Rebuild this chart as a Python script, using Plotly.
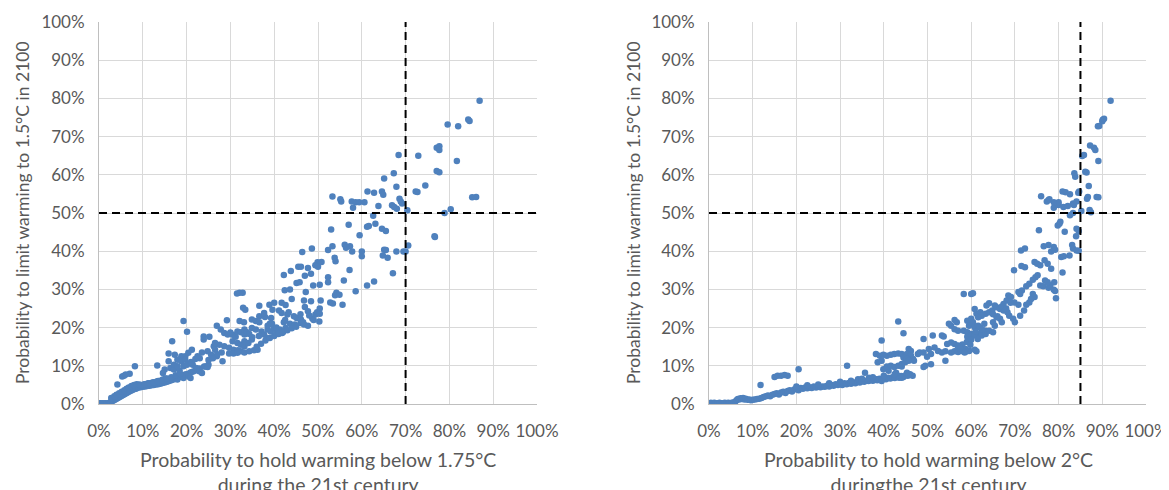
import plotly.graph_objects as go
from plotly.subplots import make_subplots

# left panel: P(<1.75C during century) vs P(1.5C in 2100), in %
x_175 = [
    0.0, 0.3, 0.6, 0.9, 1.2, 1.5, 1.8, 2.1, 2.4, 2.7,
    3.0, 3.3, 3.6, 3.9, 4.2, 4.5, 4.8, 5.1, 5.4, 5.7,
    6.0, 6.3, 6.6, 6.9, 7.2, 7.5, 7.8, 8.1, 8.4, 8.7,
    2.8, 3.5, 4.0, 4.6, 5.2, 5.8, 6.3, 6.8, 7.4, 8.0,
    9.0, 9.5, 10.0, 10.5, 11.0, 11.5, 12.0, 12.5, 13.0, 13.5,
    8.6, 9.2, 9.8, 10.4, 11.2, 12.2, 13.2, 14.0, 14.6, 15.2,
    14.0, 14.5, 15.0, 15.5, 16.0, 16.5, 17.0, 17.5, 18.0, 18.5,
    19.0, 19.5, 20.0, 20.5, 21.0, 21.5, 22.0, 23.0, 24.0, 25.0,
    4.2, 5.3, 5.7, 6.1, 7.0, 8.2, 13.3, 15.0, 14.6, 16.3,
    15.4, 16.3, 17.1, 18.4, 17.6, 17.9, 19.3, 19.7, 20.5, 20.9,
    15.9, 16.7, 17.3, 18.8, 19.7, 17.9, 18.8, 19.7, 17.1, 17.9,
    19.3, 20.1, 21.4, 22.2, 15.9, 19.3, 20.1, 21.2, 20.4, 22.9,
    23.5, 24.3, 24.8, 23.9, 23.9, 25.2, 26.2, 26.5, 24.8, 25.6,
    26.9, 23.5, 26.9, 27.8, 29.2, 28.2, 28.6, 29.4, 30.0, 30.5,
    31.2, 31.6, 32.4, 33.2, 30.5, 31.6, 32.4, 33.2, 28.6, 29.7,
    30.7, 31.7, 32.4, 33.2, 34.3, 35.4, 36.2, 33.2, 34.1, 34.9,
    29.7, 30.7, 31.6, 33.2, 33.8, 34.3, 34.9, 35.8, 32.1, 33.1,
    31.5, 32.1, 32.8, 37.1, 37.7, 38.3, 38.5, 39.2, 40.5, 41.8,
    40.0, 41.3, 42.6, 34.9, 35.8, 36.6, 36.6, 37.9, 39.3, 42.2,
    43.6, 44.7, 46.0, 46.8, 47.7, 41.7, 43.0, 43.3, 37.7, 39.6,
    41.1, 41.7, 42.6, 38.9, 40.0, 36.6, 32.9, 33.4, 45.1, 46.1,
    46.6, 48.7, 49.4, 50.3, 47.0, 47.7, 50.4, 49.8, 50.4, 46.8,
    48.4, 50.6, 52.8, 53.4, 55.6, 54.2, 53.9, 54.9, 42.4, 43.6,
    47.2, 48.9, 50.4, 45.1, 45.8, 48.4, 47.0, 42.2, 43.8, 45.5,
    46.1, 47.7, 49.9, 49.4, 50.0, 50.8, 52.3, 52.3, 55.9, 58.6,
    61.2, 62.8, 67.1, 57.2, 53.8, 54.0, 46.4, 48.6, 52.3, 65.1,
    65.5, 67.9, 69.5, 70.0, 70.6, 64.8, 65.9, 57.8, 60.0, 60.0,
    53.3, 56.1, 56.4, 57.3, 59.5, 76.6, 76.7, 64.6, 65.5, 63.1,
    61.2, 61.6, 57.0, 53.0, 62.6, 78.9, 80.3, 70.4, 58.0, 66.9,
    67.4, 68.0, 63.8, 85.2, 86.1, 57.7, 58.6, 59.4, 60.6, 68.6,
    68.9, 69.2, 55.1, 55.3, 53.3, 61.3, 62.8, 64.6, 64.9, 72.3,
    72.7, 67.9, 74.5, 65.1, 67.3, 77.1, 77.7, 81.7, 72.9, 68.4,
    77.1, 77.7, 77.7, 82.0, 79.6, 84.3, 84.6, 86.9, 44.0, 39.0,
    36.0, 37.0, 38.0, 39.0, 40.0, 41.0, 42.0, 43.0, 44.0, 45.0,
    35.0, 36.5, 38.5, 39.5, 40.5, 42.5, 44.5, 46.0, 48.0, 49.0,
    21.0, 22.0, 23.0, 25.0, 26.0, 27.0, 28.0, 27.5, 26.5, 22.5,
    9.5, 10.5, 11.5, 12.5, 13.5, 14.5, 15.5, 16.5, 17.5, 18.5,
]
y_175 = [
    0.2, 0.2, 0.1, 0.2, 0.1, 0.2, 0.1, 0.2, 0.3, 0.5,
    0.7, 0.9, 1.1, 1.3, 1.5, 1.7, 1.9, 2.1, 2.3, 2.5,
    2.7, 2.9, 3.1, 3.3, 3.5, 3.6, 3.8, 3.9, 4.0, 4.2,
    1.6, 2.0, 2.4, 2.8, 3.2, 3.6, 4.0, 4.3, 4.7, 5.0,
    4.3, 4.4, 4.5, 4.6, 4.7, 4.8, 4.9, 5.0, 5.1, 5.2,
    5.2, 5.1, 5.0, 5.2, 5.4, 5.6, 5.9, 6.1, 6.4, 6.7,
    5.3, 5.5, 5.6, 5.8, 6.0, 6.2, 6.4, 6.6, 6.9, 7.1,
    7.3, 7.5, 7.8, 8.0, 8.3, 8.5, 8.8, 9.3, 9.8, 10.3,
    5.1, 7.2, 7.4, 7.7, 7.9, 9.9, 10.1, 9.0, 8.1, 6.4,
    5.9, 9.4, 9.0, 8.8, 7.2, 6.4, 6.8, 7.7, 7.2, 6.8,
    13.2, 16.4, 12.9, 12.5, 12.5, 11.6, 11.2, 11.6, 10.3, 9.9,
    9.9, 10.3, 10.3, 9.4, 11.2, 21.7, 18.9, 14.2, 13.4, 8.6,
    8.1, 9.8, 9.7, 17.7, 16.9, 17.6, 15.1, 14.2, 13.8, 12.9,
    12.5, 13.5, 20.5, 19.5, 21.9, 11.2, 18.6, 18.2, 18.7, 18.1,
    17.6, 19.0, 18.8, 18.2, 16.4, 16.0, 15.5, 15.1, 15.1, 14.7,
    14.2, 14.1, 13.8, 13.5, 13.8, 14.1, 14.2, 16.4, 16.0, 16.9,
    13.2, 13.2, 13.4, 19.5, 18.8, 18.3, 19.9, 19.5, 21.7, 21.4,
    28.9, 29.1, 29.1, 19.0, 18.2, 17.3, 19.5, 19.0, 18.8, 18.6,
    19.9, 19.5, 19.9, 22.1, 21.7, 21.4, 23.0, 22.8, 22.5, 21.4,
    21.0, 20.8, 21.2, 20.8, 20.5, 23.8, 23.4, 24.0, 23.8, 24.7,
    24.5, 26.5, 25.9, 26.0, 26.5, 25.7, 25.2, 24.7, 22.5, 22.1,
    21.4, 22.4, 23.4, 21.6, 25.4, 24.3, 25.0, 24.0, 23.6, 27.1,
    26.9, 27.1, 26.6, 26.3, 26.0, 29.1, 28.5, 28.6, 29.8, 30.0,
    29.3, 31.0, 31.2, 31.7, 31.9, 34.1, 33.6, 33.8, 34.8, 35.9,
    35.9, 35.6, 37.1, 36.3, 35.9, 37.2, 33.2, 31.9, 32.3, 29.5,
    31.0, 32.1, 34.2, 35.1, 38.3, 37.4, 39.8, 40.7, 40.3, 40.4,
    40.3, 39.9, 39.9, 39.9, 41.5, 38.9, 38.3, 39.9, 39.9, 38.7,
    41.3, 41.7, 40.9, 41.3, 44.2, 43.9, 43.7, 45.9, 45.3, 47.2,
    46.4, 46.6, 46.9, 45.7, 49.3, 50.0, 51.0, 50.7, 51.4, 52.0,
    51.6, 51.1, 51.8, 54.1, 54.2, 53.0, 52.8, 52.8, 52.8, 53.7,
    53.0, 52.5, 53.6, 53.0, 54.3, 55.6, 55.3, 55.6, 54.8, 55.6,
    55.5, 56.9, 57.2, 59.0, 60.4, 61.0, 60.7, 63.6, 65.0, 65.2,
    67.1, 67.5, 66.5, 72.7, 73.2, 74.5, 74.1, 79.4, 27.5, 21.0,
    15.0, 15.8, 16.6, 17.3, 17.8, 18.3, 18.8, 19.3, 19.8, 20.2,
    17.5, 17.8, 20.5, 21.0, 20.0, 22.0, 23.0, 23.5, 23.2, 22.0,
    11.0, 11.8, 12.0, 11.5, 12.0, 13.0, 13.5, 15.5, 16.0, 12.5,
    4.9, 5.2, 5.4, 5.7, 6.0, 6.3, 6.7, 7.0, 7.5, 7.9,
]

# right panel: P(<2C during century) vs P(1.5C in 2100), in %
x_2 = [
    0.0, 0.4, 0.8, 1.2, 1.6, 2.0, 2.4, 2.8, 3.2, 3.6,
    4.0, 4.4, 4.8, 5.2, 5.6, 6.0, 6.3, 6.6, 6.9, 7.2,
    7.5, 7.8, 8.1, 8.4, 8.8, 9.2, 9.6, 10.0, 10.5, 11.0,
    11.5, 12.0, 12.5, 13.0, 13.5, 14.0, 14.5, 15.0, 15.5, 16.0,
    16.5, 17.0, 17.5, 18.0, 18.5, 19.0, 19.5, 20.0, 20.5, 21.0,
    21.5, 22.0, 22.5, 23.0, 23.5, 24.0, 24.5, 25.0, 25.5, 26.0,
    26.5, 27.0, 27.5, 28.0, 28.5, 29.0, 29.5, 30.0, 30.5, 31.0,
    31.5, 32.0, 32.5, 33.0, 33.5, 34.0, 34.5, 35.0, 35.5, 36.0,
    36.5, 37.0, 37.5, 38.0, 38.5, 39.0, 39.5, 40.0, 40.5, 41.0,
    41.5, 42.0, 42.5, 43.0, 43.5, 44.0, 44.5, 45.0, 45.5, 46.0,
    11.8, 15.0, 15.7, 16.5, 17.3, 18.0, 20.5, 31.6, 34.1, 34.9,
    35.7, 36.6, 38.2, 39.5, 39.9, 41.1, 42.8, 43.3, 44.1, 45.3,
    45.7, 46.6, 44.1, 44.9, 40.7, 41.6, 42.4, 43.3, 44.1, 38.6,
    39.5, 38.2, 39.1, 39.9, 40.7, 41.6, 42.4, 43.3, 44.1, 39.5,
    43.3, 44.5, 45.7, 46.2, 45.3, 46.2, 46.7, 46.9, 44.5, 45.3,
    45.7, 47.8, 48.2, 49.1, 49.5, 49.1, 50.8, 54.1, 50.3, 50.8,
    49.9, 49.1, 51.2, 53.3, 51.6, 52.4, 53.3, 54.1, 53.7, 54.5,
    55.4, 56.2, 57.0, 57.8, 58.7, 59.5, 55.4, 56.2, 57.0, 57.8,
    58.7, 59.5, 60.8, 61.2, 55.4, 54.9, 56.7, 56.2, 56.2, 57.0,
    58.3, 59.1, 60.0, 60.8, 61.6, 62.4, 63.3, 59.1, 60.0, 60.8,
    62.4, 63.3, 59.1, 60.0, 60.4, 59.5, 60.8, 61.6, 58.3, 60.0,
    60.4, 64.1, 65.0, 65.0, 65.4, 65.8, 66.6, 67.0, 68.7, 69.6,
    70.0, 61.2, 62.1, 60.8, 64.1, 63.5, 63.3, 62.4, 61.6, 64.1,
    64.8, 65.4, 65.8, 66.6, 67.4, 68.3, 68.1, 67.4, 68.5, 69.1,
    69.9, 70.8, 72.1, 71.2, 73.3, 72.6, 74.1, 74.5, 73.7, 70.8,
    71.6, 71.2, 73.3, 72.6, 75.8, 76.5, 77.7, 78.1, 78.9, 79.0,
    79.2, 79.4, 74.7, 75.2, 74.1, 76.9, 77.5, 78.3, 80.9, 69.8,
    71.5, 72.3, 74.5, 75.1, 75.8, 76.8, 77.5, 71.4, 72.3, 78.3,
    79.2, 80.6, 81.2, 83.1, 83.3, 84.1, 84.6, 82.5, 77.7, 76.6,
    78.9, 75.5, 81.4, 84.1, 84.6, 84.0, 79.8, 80.2, 80.4, 82.6,
    83.3, 85.2, 87.1, 87.4, 78.9, 81.1, 82.1, 83.3, 83.5, 84.1,
    80.0, 80.0, 78.9, 77.3, 77.7, 77.9, 76.0, 82.6, 80.9, 81.6,
    84.7, 84.5, 86.5, 86.7, 88.7, 89.1, 86.9, 83.6, 83.8, 86.1,
    86.4, 89.1, 85.4, 85.8, 87.2, 88.1, 88.4, 89.3, 89.0, 90.0,
    90.1, 90.4, 91.9, 65.0, 66.0, 67.0, 68.0, 69.0, 62.0, 63.0,
    57.0, 58.0, 59.0, 60.0, 61.5, 62.5, 57.5, 58.5, 59.8, 61.0,
    20.0, 22.5, 25.0, 27.5, 30.0, 32.5, 35.0, 37.5, 40.0, 42.5,
]
y_2 = [
    0.2, 0.3, 0.2, 0.3, 0.2, 0.2, 0.3, 0.2, 0.2, 0.3,
    0.2, 0.3, 0.2, 0.3, 0.4, 0.6, 1.0, 1.3, 1.2, 1.5,
    1.3, 1.6, 1.2, 1.4, 1.1, 1.2, 1.0, 1.1, 1.2, 1.3,
    1.4, 1.6, 1.8, 2.0, 2.2, 2.0, 2.4, 2.6, 2.8, 2.5,
    3.0, 3.2, 2.9, 3.4, 3.6, 3.3, 3.8, 4.0, 3.6, 4.2,
    4.0, 4.3, 4.1, 4.4, 4.2, 4.6, 4.3, 4.5, 4.4, 4.6,
    4.5, 4.8, 4.6, 5.0, 4.8, 5.2, 5.0, 5.3, 5.0, 5.4,
    5.2, 5.5, 5.3, 5.7, 5.4, 5.8, 5.6, 6.0, 5.8, 6.1,
    6.0, 6.3, 6.1, 6.5, 6.2, 6.6, 6.4, 6.8, 6.5, 6.9,
    6.7, 7.0, 6.8, 7.2, 6.9, 7.3, 7.1, 7.5, 7.4, 7.8,
    5.0, 7.1, 7.4, 7.4, 7.6, 7.4, 9.1, 10.0, 6.5, 6.0,
    8.2, 6.9, 6.5, 6.0, 9.1, 8.7, 8.2, 7.4, 6.9, 8.2,
    7.8, 7.4, 10.5, 10.9, 9.8, 10.0, 9.7, 10.0, 9.8, 10.9,
    11.3, 13.1, 12.6, 12.9, 12.6, 12.9, 13.1, 13.2, 13.1, 16.6,
    21.6, 18.5, 14.4, 13.9, 13.1, 12.7, 11.8, 11.3, 12.2, 11.8,
    11.3, 13.1, 13.5, 13.5, 10.0, 9.7, 10.4, 11.3, 14.4, 13.1,
    12.4, 17.0, 17.9, 17.9, 14.8, 13.9, 13.5, 13.8, 17.7, 15.7,
    16.1, 15.7, 15.3, 14.8, 14.4, 14.0, 13.5, 13.8, 13.6, 13.9,
    13.7, 13.9, 14.2, 13.8, 20.5, 21.0, 21.4, 22.0, 19.6, 19.2,
    19.2, 18.8, 18.3, 17.9, 18.3, 18.8, 19.2, 17.6, 17.9, 18.1,
    17.9, 18.3, 21.8, 22.3, 21.4, 20.5, 20.1, 20.5, 28.8, 28.8,
    29.0, 19.2, 18.8, 21.4, 20.5, 22.7, 22.3, 21.4, 23.1, 22.3,
    21.4, 23.6, 24.0, 24.9, 26.4, 25.8, 23.6, 23.1, 22.7, 24.0,
    24.5, 25.8, 25.3, 24.9, 24.5, 24.0, 27.1, 26.2, 28.4, 28.0,
    26.6, 26.0, 24.5, 23.1, 26.6, 26.0, 28.8, 28.0, 27.5, 29.3,
    29.7, 28.8, 31.5, 30.8, 31.0, 30.8, 30.4, 31.0, 29.9, 31.9,
    29.6, 27.7, 33.2, 33.7, 32.5, 32.3, 31.9, 35.4, 34.4, 35.0,
    36.1, 35.8, 37.2, 36.7, 36.3, 37.6, 36.7, 40.2, 40.7, 39.9,
    40.4, 38.5, 38.7, 41.6, 40.7, 40.2, 40.1, 38.9, 41.6, 41.3,
    41.1, 45.5, 45.1, 45.9, 45.3, 43.9, 46.7, 47.2, 47.7, 49.4,
    50.0, 50.5, 50.8, 50.2, 51.4, 51.6, 51.8, 52.5, 52.1, 53.0,
    52.1, 52.8, 52.8, 53.0, 53.4, 53.6, 54.4, 54.9, 55.6, 55.4,
    55.6, 55.3, 53.7, 54.2, 54.2, 54.1, 57.1, 60.4, 59.5, 60.8,
    60.6, 63.6, 64.9, 65.2, 67.7, 67.1, 66.5, 72.8, 72.7, 74.0,
    74.4, 74.7, 79.4, 23.5, 23.0, 25.5, 25.0, 26.5, 20.0, 21.0,
    15.0, 15.6, 16.2, 16.8, 17.0, 19.5, 14.5, 13.5, 15.5, 19.0,
    4.6, 4.9, 5.1, 5.4, 5.8, 6.1, 6.6, 7.0, 7.4, 7.8,
]

pct_ticks = [0, 10, 20, 30, 40, 50, 60, 70, 80, 90, 100]
pct_labels = ["0%", "10%", "20%", "30%", "40%", "50%", "60%", "70%", "80%", "90%", "100%"]
threshold_y = 50
threshold_x_left = 70
threshold_x_right = 85

font_family = "Lato"
gray_text = "#595959"
dot_color = "#4f81bd"

fig = make_subplots(rows=1, cols=2)

fig.add_trace(go.Scatter(x=x_175, y=y_175, mode="markers",
                         marker=dict(size=6.5, color=dot_color),
                         showlegend=False), row=1, col=1)
fig.add_trace(go.Scatter(x=x_2, y=y_2, mode="markers",
                         marker=dict(size=6.5, color=dot_color),
                         showlegend=False), row=1, col=2)

axis_common = dict(
    range=[0, 100],
    tickmode="array",
    tickvals=pct_ticks,
    ticktext=pct_labels,
    showgrid=True,
    gridcolor="#d9d9d9",
    gridwidth=1,
    zeroline=False,
    showline=True,
    linecolor="#bfbfbf",
    linewidth=1,
    ticks="outside",
    tickcolor="rgba(0,0,0,0)",
    tickfont=dict(family=font_family, size=17, color=gray_text),
    automargin=False,
    fixedrange=True,
)

fig.update_xaxes(**axis_common, ticklen=12)
fig.update_yaxes(**axis_common, ticklen=10)

# page body adds an 8px offset, domains are shifted to compensate
W, H = 1169, 490
fig.update_layout(
    xaxis=dict(domain=[91 / W, 529 / W]),
    xaxis2=dict(domain=[701 / W, 1138 / W]),
    yaxis=dict(domain=[1 - 396 / H, 1 - 14 / H]),
    yaxis2=dict(domain=[1 - 396 / H, 1 - 14 / H]),
)

# dashed reference lines
for xr, yr, xv in [("x", "y", threshold_x_left), ("x2", "y2", threshold_x_right)]:
    fig.add_shape(type="line", xref=xr, yref=yr, x0=0, x1=100, y0=threshold_y, y1=threshold_y,
                  line=dict(color="black", width=2, dash="8px,5px"))
    fig.add_shape(type="line", xref=xr, yref=yr, x0=xv, x1=xv, y0=0, y1=100,
                  line=dict(color="black", width=2, dash="8px,5px"))

ytitle_font = dict(family=font_family, size=17.5, color=gray_text)
xtitle_font = dict(family=font_family, size=19.5, color=gray_text)

# axis titles
fig.add_annotation(text="Probability to limit warming to 1.5°C in 2100", textangle=-90,
                   xref="paper", yref="paper", x=14 / W, y=1 - 205 / H,
                   xanchor="center", yanchor="middle",
                   showarrow=False, font=ytitle_font)
fig.add_annotation(text="Probability to limit warming to 1.5°C in 2100", textangle=-90,
                   xref="paper", yref="paper", x=625 / W, y=1 - 205 / H,
                   xanchor="center", yanchor="middle",
                   showarrow=False, font=ytitle_font)
fig.add_annotation(text="Probability to hold warming below 1.75°C<br>during the 21st century",
                   xref="paper", yref="paper", x=310 / W, y=1 - 438 / H,
                   xanchor="center", yanchor="top",
                   showarrow=False, font=xtitle_font)
fig.add_annotation(text="Probability to hold warming below 2°C<br>duringthe 21st century",
                   xref="paper", yref="paper", x=920 / W, y=1 - 438 / H,
                   xanchor="center", yanchor="top",
                   showarrow=False, font=xtitle_font)

fig.update_layout(
    width=W,
    height=H,
    margin=dict(l=0, r=0, t=0, b=0),
    paper_bgcolor="white",
    plot_bgcolor="white",
    font=dict(family=font_family, color=gray_text),
)

fig.write_html("out.html")
